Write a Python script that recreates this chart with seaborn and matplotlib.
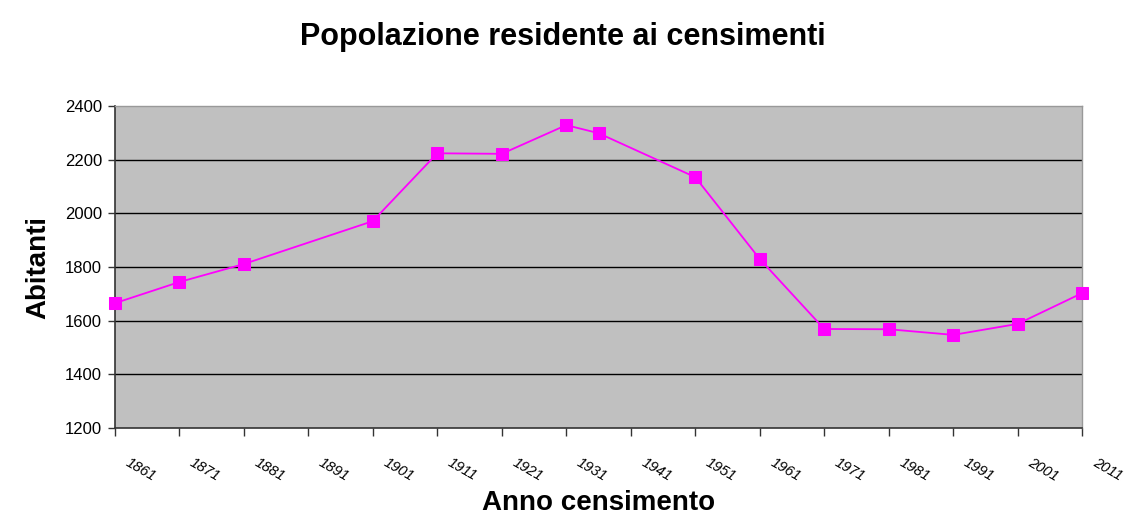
import numpy as np
import pandas as pd
import matplotlib
matplotlib.use("Agg")
import matplotlib.pyplot as plt
import matplotlib.transforms as mtrans
import seaborn as sns

# census years and resident population
anni = [1861, 1871, 1881, 1901, 1911, 1921, 1931, 1936, 1951, 1961, 1971, 1981, 1991, 2001, 2011]
abitanti = [1665, 1744, 1811, 1971, 2224, 2222, 2329, 2299, 2135, 1830, 1569, 1568, 1547, 1588, 1703]
tick_anni = list(range(1861, 2012, 10))
tick_y = list(range(1200, 2401, 200))

df = pd.DataFrame({"anno": anni, "abitanti": abitanti})

sns.set_style("white")
plt.rcParams["font.family"] = ["Liberation Sans", "DejaVu Sans"]
plt.rcParams["text.color"] = "black"
plt.rcParams["axes.labelcolor"] = "black"
plt.rcParams["xtick.color"] = "black"
plt.rcParams["ytick.color"] = "black"

fig = plt.figure(figsize=(11.25, 5.2), dpi=100)
ax = fig.add_axes([0.102, 0.177, 0.86, 0.619])
ax.set_facecolor("#C0C0C0")

for v in tick_y[1:-1]:
    ax.axhline(v, color="black", linewidth=1, zorder=1)

sns.lineplot(data=df, x="anno", y="abitanti", ax=ax, color="#FF00FF",
             marker="s", markersize=8, markeredgecolor="#FF00FF",
             linewidth=1.3, zorder=3, clip_on=False)

ax.set_xlim(1861, 2011)
ax.set_ylim(1200, 2400)
ax.set_xticks(tick_anni)
ax.set_xticklabels([str(a) for a in tick_anni], rotation=-30, ha="left",
                   rotation_mode="anchor", fontsize=10.5, style="italic")
ax.set_yticks(tick_y)
ax.set_yticklabels([str(v) for v in tick_y], fontsize=12)
ax.tick_params(axis="x", bottom=True, direction="out", length=6, width=1,
               color="#333333", pad=14)
ax.tick_params(axis="y", left=True, direction="out", length=5, width=1,
               color="#333333", pad=4)

# nudge the rotated year labels to the right of their ticks
shift = mtrans.ScaledTranslation(11 / 72, 0, fig.dpi_scale_trans)
for lab in ax.get_xticklabels():
    lab.set_transform(lab.get_transform() + shift)

for s in ["left", "bottom"]:
    ax.spines[s].set_color("#333333")
    ax.spines[s].set_linewidth(1.2)
for s in ["top", "right"]:
    ax.spines[s].set_color("#999999")
    ax.spines[s].set_linewidth(1)

ax.set_xlabel("Anno censimento", fontsize=20, fontweight="bold", labelpad=4)
ax.set_ylabel("Abitanti", fontsize=20, fontweight="bold", labelpad=10)
fig.suptitle("Popolazione residente ai censimenti", fontsize=22, fontweight="bold", y=0.957)

fig.savefig("out.png", dpi=100)
